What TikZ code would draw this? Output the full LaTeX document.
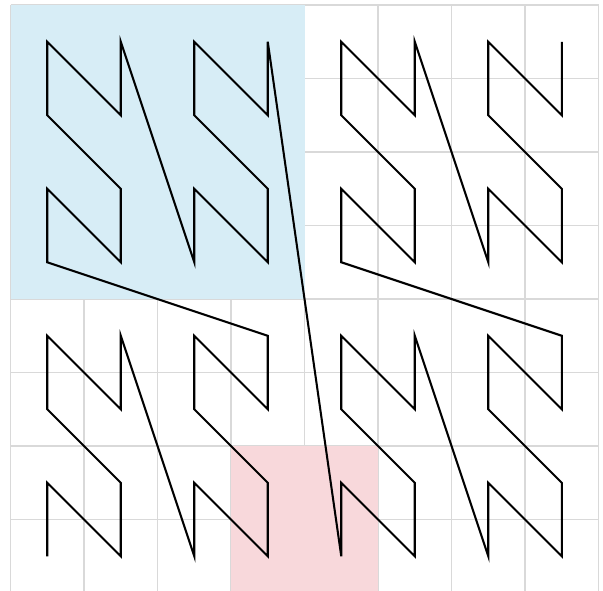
\documentclass[tikz,border=0pt]{standalone}
\definecolor{quadblue}{HTML}{D7EDF6}
\definecolor{cellpink}{HTML}{F8D8DB}
\definecolor{gridgray}{HTML}{D9D9D9}
\begin{document}
\begin{tikzpicture}[x=1cm,y=1cm]
\useasboundingbox (-0.143,0.04) rectangle (8.061,8.068);
\draw[gridgray,line width=0.5pt,step=1] (0,0) grid (8,8);

\fill[quadblue] (0,4) rectangle (4,8);
\fill[cellpink] (3,0) rectangle (5,2);

% z-order curve through the cell centres
\draw[line width=0.8pt,shift={(0.5,0.5)}]
(0,0) -- (0,1) -- (1,0) -- (1,1) -- (0,2) -- (0,3) -- (1,2) -- (1,3) --
(2,0) -- (2,1) -- (3,0) -- (3,1) -- (2,2) -- (2,3) -- (3,2) -- (3,3) --
(0,4) -- (0,5) -- (1,4) -- (1,5) -- (0,6) -- (0,7) -- (1,6) -- (1,7) --
(2,4) -- (2,5) -- (3,4) -- (3,5) -- (2,6) -- (2,7) -- (3,6) -- (3,7) --
(4,0) -- (4,1) -- (5,0) -- (5,1) -- (4,2) -- (4,3) -- (5,2) -- (5,3) --
(6,0) -- (6,1) -- (7,0) -- (7,1) -- (6,2) -- (6,3) -- (7,2) -- (7,3) --
(4,4) -- (4,5) -- (5,4) -- (5,5) -- (4,6) -- (4,7) -- (5,6) -- (5,7) --
(6,4) -- (6,5) -- (7,4) -- (7,5) -- (6,6) -- (6,7) -- (7,6) -- (7,7);
\end{tikzpicture}
\end{document}
